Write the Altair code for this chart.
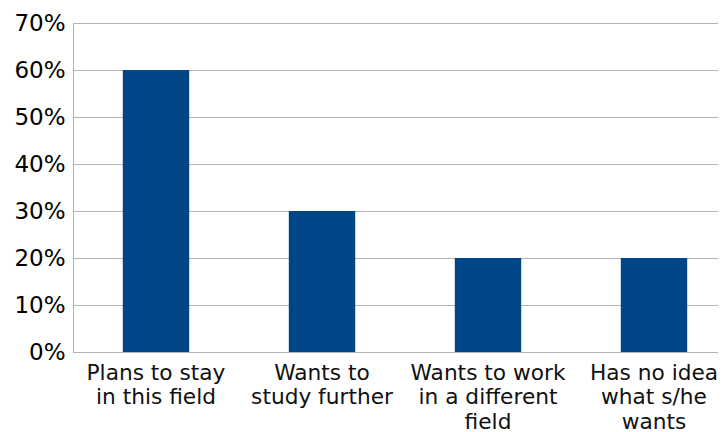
import altair as alt
import pandas as pd

categories = [
    "Plans to stay|in this field",
    "Wants to|study further",
    "Wants to work|in a different|field",
    "Has no idea|what s/he|wants",
]
values = [0.60, 0.30, 0.20, 0.20]

df = pd.DataFrame({"cat": categories, "val": values})

chart = (
    alt.Chart(df)
    .mark_bar(color="#004586")
    .encode(
        x=alt.X(
            "cat:N",
            sort=categories,
            title=None,
            scale=alt.Scale(paddingInner=0.6, paddingOuter=0.3, range=[0, 664]),
            axis=alt.Axis(
                labelAngle=0,
                labelExpr="split(datum.label, '|')",
                labelFont="DejaVu Sans",
                labelFontSize=21.7,
                labelColor="#111111",
                labelLineHeight=24.5,
                labelPadding=10,
                labelBaseline="top",
                labelLimit=0,
                ticks=False,
                domainColor="#b3b3b3",
                domainWidth=1,
                grid=False,
            ),
        ),
        y=alt.Y(
            "val:Q",
            title=None,
            scale=alt.Scale(domain=[0, 0.7], nice=False),
            axis=alt.Axis(
                values=[0, 0.1, 0.2, 0.3, 0.4, 0.5, 0.6, 0.7],
                format=".0%",
                labelFont="DejaVu Sans",
                labelFontSize=23,
                labelColor="#000000",
                labelPadding=8,
                ticks=False,
                domainColor="#b3b3b3",
                gridColor="#b3b3b3",
                gridWidth=1,
            ),
        ),
    )
    .properties(
        width=645,
        height=329,
        autosize=alt.AutoSizeParams(type="none"),
        padding={"left": 65, "top": 15, "right": 0, "bottom": 80},
    )
    .configure_view(stroke=None)
)

chart.save("out.html", embed_options={"renderer": "svg", "actions": False})
